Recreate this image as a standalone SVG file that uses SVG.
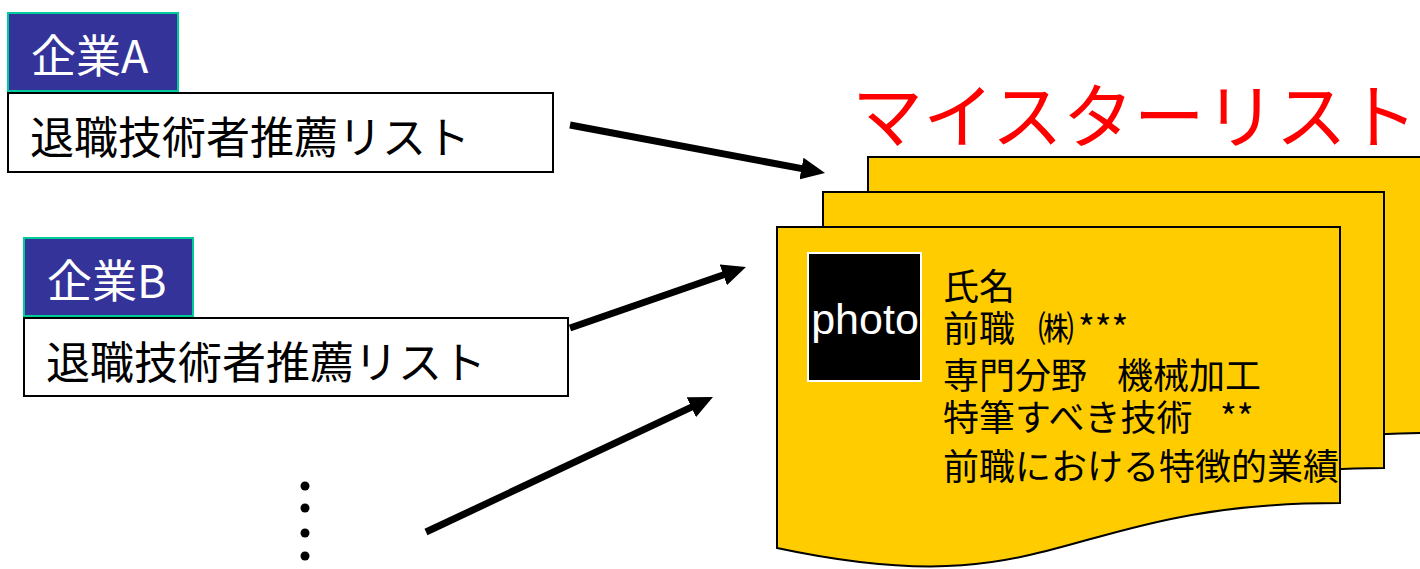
<svg xmlns="http://www.w3.org/2000/svg" width="1420" height="569" viewBox="0 0 1420 569">
<style>
.lbl{fill:#333399;stroke:#00cc99;stroke-width:2}
.lbltxt{font-family:"Noto Sans CJK JP","Noto Sans",sans-serif;font-size:45px;fill:#ffffff}
.box{fill:#ffffff;stroke:#000000;stroke-width:2}
.boxtxt{font-family:"Noto Sans CJK JP",sans-serif;font-size:44px;fill:#000000}
.card{fill:#ffcc00;stroke:#000000;stroke-width:2}
.info{font-family:"Noto Sans CJK JP",sans-serif;font-size:36px;fill:#000000}
.arrow{stroke:#000000;stroke-width:7;fill:none;marker-end:url(#ah)}
</style>
<defs>
<marker id="ah" viewBox="0 0 24 22" refX="2" refY="11" markerWidth="3.43" markerHeight="3.14" orient="auto" markerUnits="strokeWidth">
<path d="M0,0 L24,11 L0,22 Z" fill="#000000"/>
</marker>
</defs>
<rect width="1420" height="569" fill="#ffffff"/>
<g id="title">
<text x="852" y="142" font-family="Noto Sans CJK JP,sans-serif" font-size="71" fill="#ff0000">マイスターリスト</text>
</g>
<g id="companyA">
<rect class="lbl" x="8" y="13" width="170" height="78"/>
<text class="lbltxt" x="31" y="73">企業A</text>
<rect class="box" x="8" y="93" width="545" height="79"/>
<text class="boxtxt" x="30" y="154">退職技術者推薦リスト</text>
</g>
<g id="companyB">
<rect class="lbl" x="24" y="238" width="169" height="78"/>
<text class="lbltxt" x="47" y="298">企業B</text>
<rect class="box" x="24" y="318" width="544" height="78"/>
<text class="boxtxt" x="46" y="379">退職技術者推薦リスト</text>
</g>
<g id="more">
<circle cx="305" cy="486" r="4.5" fill="#000"/>
<circle cx="305" cy="508" r="4.5" fill="#000"/>
<circle cx="305" cy="533" r="4.5" fill="#000"/>
<circle cx="305" cy="556" r="4.5" fill="#000"/>
</g>
<g id="masterlist">
<path class="card" d="M868,157 L1430,157 L1430,433 C1149,433 1149,538 868,509 Z"/>
<path class="card" d="M823,192 L1384,192 L1384,468 C1103,468 1103,573 823,513 Z"/>
<path class="card" d="M777,227 L1340,227 L1340,503 C1058,503 1058,608 777,548 Z"/>
<rect x="808" y="253" width="113" height="128" fill="#000000" stroke="#ffffff" stroke-width="2"/>
<text x="865" y="334" text-anchor="middle" font-family="Liberation Sans,Arial,sans-serif" font-size="43" fill="#ffffff">photo</text>
<text class="info" x="943" y="300">氏名</text>
<text class="info" x="943" y="342">前職<tspan x="1038">㈱</tspan><tspan x="1078">***</tspan></text>
<text class="info" x="943" y="389">専門分野<tspan x="1117">機械加工</tspan></text>
<text class="info" x="943" y="431">特筆すべき技術<tspan x="1220">**</tspan></text>
<text class="info" x="943" y="480">前職における特徴的業績</text>
</g>
<g id="connectors">
<line class="arrow" x1="570" y1="125" x2="803.4" y2="168.9"/>
<line class="arrow" x1="570" y1="328" x2="725.2" y2="274.2"/>
<line class="arrow" x1="426" y1="532" x2="693.1" y2="406.4"/>
</g>
</svg>
